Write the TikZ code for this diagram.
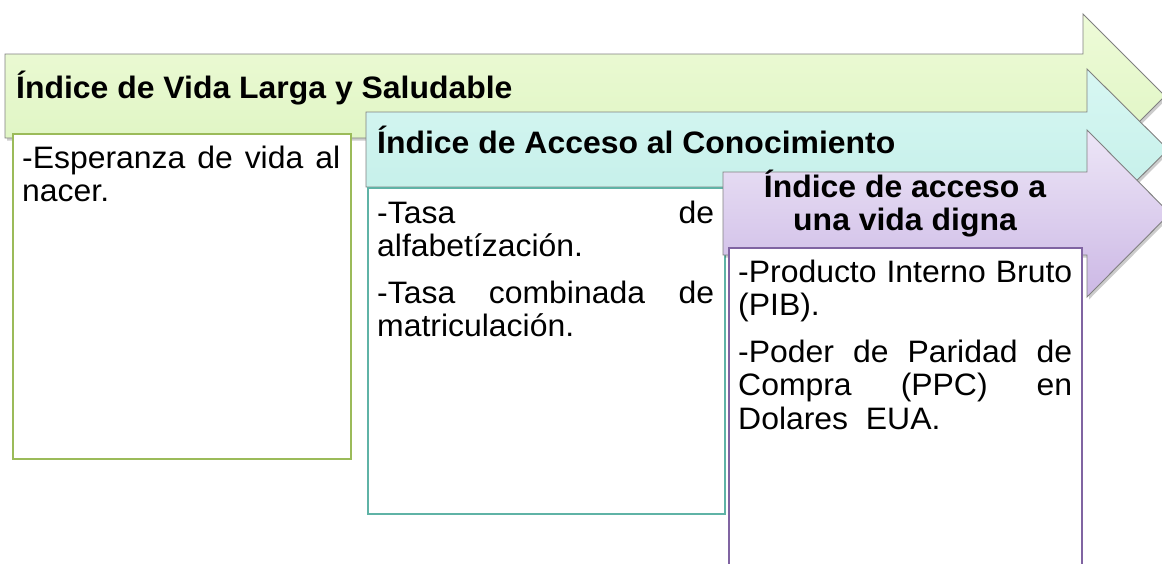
\documentclass[tikz,border=0pt]{standalone}
\usepackage{fontspec}
\setmainfont[FakeStretch=1.03]{Liberation Sans}
\definecolor{grnTop}{HTML}{EEFBD8}
\definecolor{grnBot}{HTML}{DCF4BF}
\definecolor{tealTop}{HTML}{D8F7F3}
\definecolor{tealBot}{HTML}{C0EEE7}
\definecolor{purTop}{HTML}{EDE6F7}
\definecolor{purBot}{HTML}{CCB8E5}
\definecolor{grnLine}{HTML}{9BBB59}
\definecolor{tealLine}{HTML}{5FB3A6}
\definecolor{purLine}{HTML}{8064A2}
\definecolor{arrLine}{HTML}{808080}
\newcommand\grnshape{(5,54) -- (1083,54) -- (1083,14) -- (1165,96) -- (1083,178) -- (1083,138) -- (5,138) -- cycle}
\newcommand\tealshape{(366,112) -- (1087,112) -- (1087,69) -- (1168,149.5) -- (1087,230) -- (1087,187) -- (366,187) -- cycle}
\newcommand\purshape{(723,172) -- (1087,172) -- (1087,130) -- (1170,213.5) -- (1087,297) -- (1087,255) -- (723,255) -- cycle}
\begin{document}
\begin{tikzpicture}[x=1pt,y=-1pt,
  arrowshadow/.style={fill=black,opacity=0.2},
  arrowbody/.style={draw=arrLine,line width=0.9pt,line join=miter},
  title/.style={inner sep=0pt,font=\fontsize{31}{33.5}\selectfont\bfseries},
  body/.style={inner sep=0pt,anchor=base west,align=justify,font=\fontsize{31}{33.5}\selectfont},
  cbox/.style={draw,fill=white,line width=2.2pt,inner sep=0pt,anchor=north west}]
\useasboundingbox (0,0) rectangle (1162,563);
\clip (0,0) rectangle (1162,563);
% green arrow
\fill[arrowshadow] [shift={(2,2.5)}] \grnshape;
\draw[arrowbody,top color=grnTop,bottom color=grnBot] \grnshape;
\node[title,anchor=base west] (gT) at (16,98) {Índice de Vida Larga y Saludable};
\node[cbox,draw=grnLine,minimum width=338pt,minimum height=325pt] (gB) at (12,133) {};
\node[body,text width=318pt] (gL1) at (22,168) {-Esperanza de vida al\linebreak nacer.};
% teal arrow
\fill[arrowshadow] [shift={(2,2.5)}] \tealshape;
\draw[arrowbody,top color=tealTop,bottom color=tealBot] \tealshape;
\node[title,anchor=base west] (tT) at (377,153) {Índice de Acceso al Conocimiento};
\node[cbox,draw=tealLine,minimum width=356.5pt,minimum height=325.5pt] (tB) at (367,187) {};
\node[body,text width=337pt] (tL1) at (377,223) {-Tasa de\linebreak alfabetízación.};
\node[body,text width=337pt] (tL2) at (377,303) {-Tasa combinada de\linebreak matriculación.};
% purple arrow
\fill[arrowshadow] [shift={(2,2.5)}] \purshape;
\draw[arrowbody,top color=purTop,bottom color=purBot] \purshape;
\node[title,anchor=base] (pT1) at (905,197) {Índice de acceso a};
\node[title,anchor=base] (pT2) at (905,230) {una vida digna};
\node[cbox,draw=purLine,minimum width=353pt,minimum height=353pt] (pB) at (728,247) {};
\node[body,text width=334pt] (pL1) at (738,282) {-Producto Interno Bruto\linebreak (PIB).};
\node[body,text width=334pt] (pL2) at (738,362) {-Poder de Paridad de\linebreak Compra (PPC) en\linebreak Dolares\ \ EUA.};
\end{tikzpicture}
\end{document}
